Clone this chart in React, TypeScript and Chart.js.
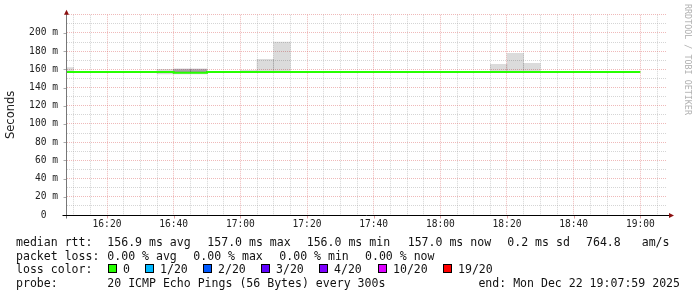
import React, { useEffect, useRef } from 'react';
import { Chart, registerables } from 'chart.js';

Chart.register(...registerables);

// ---------- data ----------
const bucketTimes = [
  '16:05', '16:10', '16:15', '16:20', '16:25', '16:30', '16:35', '16:40', '16:45', '16:50',
  '16:55', '17:00', '17:05', '17:10', '17:15', '17:20', '17:25', '17:30', '17:35', '17:40',
  '17:45', '17:50', '17:55', '18:00', '18:05', '18:10', '18:15', '18:20', '18:25', '18:30',
  '18:35', '18:40', '18:45', '18:50', '18:55', '19:00',
];
const medianRtt = [
  157, 157, 157, 157, 157, 157, 157, 156.3, 156.3, 157,
  157, 157, 157, 157, 157, 157, 157, 157, 157, 157,
  157, 157, 157, 157, 157, 157, 157, 157, 157, 157,
  157, 157, 157, 157, 157, 157,
];
const smokeLow = [
  157, null, null, null, null, null, 155, 155, 155, null,
  null, 157, 156.5, 156.5, null, null, null, null, null, null,
  null, null, null, null, null, null, 156.5, 156.5, 156.5, null,
  null, null, null, null, null, null,
];
const smokeHigh = [
  162, null, null, null, null, null, 160, 158.5, 158.5, null,
  null, 159, 171, 190, null, null, null, null, null, null,
  null, null, null, null, null, null, 165.5, 177.5, 166.5, null,
  null, null, null, null, null, null,
];
const denseLow = [
  null, null, null, null, null, null, null, 157.3, 157.3, null,
  null, null, null, null, null, null, null, null, null, null,
  null, null, null, null, null, null, null, null, null, null,
  null, null, null, null, null, null,
];
const denseHigh = [
  null, null, null, null, null, null, null, 160.3, 160.3, null,
  null, null, null, null, null, null, null, null, null, null,
  null, null, null, null, null, null, null, null, null, null,
  null, null, null, null, null, null,
];
const xStart = '16:08';
const xEnd = '19:08';
const xTickTimes = ['16:20', '16:40', '17:00', '17:20', '17:40', '18:00', '18:20', '18:40', '19:00'];
const yTickValues = [0, 20, 40, 60, 80, 100, 120, 140, 160, 180, 200];
const yTickLabels = ['0  ', '20 m', '40 m', '60 m', '80 m', '100 m', '120 m', '140 m', '160 m', '180 m', '200 m'];
const yMax = 220;

const rttLabel = 'median rtt:';
const rttStats = ['156.9 ms avg', '157.0 ms max', '156.0 ms min', '157.0 ms now', '0.2 ms sd', '764.8', 'am/s'];
const lossLabel = 'packet loss:';
const lossStats = ['0.00 % avg', '0.00 % max', '0.00 % min', '0.00 % now'];
const colorLabel = 'loss color:';
const lossLevels = ['0', '1/20', '2/20', '3/20', '4/20', '10/20', '19/20'];
const lossColors = ['#26ff00', '#00b8ff', '#0059ff', '#5e00ff', '#7e00ff', '#dd00ff', '#ff0000'];
const probeLabel = 'probe:';
const probeText = '20 ICMP Echo Pings (56 Bytes) every 300s';
const endText = 'end: Mon Dec 22 19:07:59 2025';
const watermark = 'RRDTOOL / TOBI OETIKER';

// ---------- layout ----------
const W = 697;
const H = 297;
const rttX = [107.3, 207.3, 306.7, 407.7, 507.3, 586, 641.7];
const lossX = [107.3, 193.3, 279.3, 365];
const boxX = [108, 145, 203, 261, 319, 378, 443];
const rowBase = [246, 259.5, 273, 286.5];
const mono = "'DejaVu Sans Mono', monospace";

const toMin = (t: string) => {
  const [h, m] = t.split(':').map(Number);
  return h * 60 + m;
};

const axesPlugin = {
  id: 'rrdAxes',
  afterDraw(chart: any) {
    const { ctx } = chart;
    const xs = chart.scales.x;
    const ys = chart.scales.y;
    const area = chart.chartArea;
    const ax = Math.round(area.left) - 0.5;
    const ay = Math.round(area.bottom) + 0.5;
    ctx.save();
    ctx.lineWidth = 1;
    ctx.strokeStyle = '#e0a0a0';
    xTickTimes.forEach((t) => {
      const px = Math.round(xs.getPixelForValue(toMin(t))) + 0.5;
      ctx.beginPath();
      ctx.moveTo(px, ay);
      ctx.lineTo(px, ay + 3);
      ctx.stroke();
    });
    ctx.strokeStyle = '#aaa';
    yTickValues.forEach((v) => {
      const py = Math.round(ys.getPixelForValue(v)) + 0.5;
      ctx.beginPath();
      ctx.moveTo(ax - 3, py);
      ctx.lineTo(ax, py);
      ctx.stroke();
    });
    ctx.strokeStyle = '#777';
    ctx.beginPath();
    ctx.moveTo(ax, ay + 3);
    ctx.lineTo(ax, area.top - 3);
    ctx.stroke();
    ctx.strokeStyle = '#000';
    ctx.beginPath();
    ctx.moveTo(ax - 4, ay);
    ctx.lineTo(area.right + 4, ay);
    ctx.stroke();
    ctx.fillStyle = '#8b1010';
    ctx.beginPath();
    ctx.moveTo(ax - 2.5, area.top);
    ctx.lineTo(ax + 2.5, area.top);
    ctx.lineTo(ax, area.top - 5);
    ctx.closePath();
    ctx.fill();
    ctx.beginPath();
    ctx.moveTo(area.right + 2, ay - 2.5);
    ctx.lineTo(area.right + 2, ay + 2.5);
    ctx.lineTo(area.right + 7, ay);
    ctx.closePath();
    ctx.fill();
    ctx.restore();
  },
};

export default function App() {
  const ref = useRef<HTMLCanvasElement>(null);

  useEffect(() => {
    const xs = bucketTimes.map(toMin);
    const majorX = xTickTimes.map(toMin);
    const minorGrid = 'rgba(150,150,150,0.4)';
    const majorGrid = 'rgba(220,100,100,0.45)';
    const chart = new Chart(ref.current as HTMLCanvasElement, {
      type: 'line',
      data: {
        datasets: [
          {
            type: 'line',
            label: 'median rtt',
            data: xs.map((x, i) => ({ x, y: medianRtt[i] })),
            stepped: true,
            borderColor: '#26ff00',
            borderWidth: 2,
            pointRadius: 0,
            fill: false,
            order: 0,
          } as any,
          {
            type: 'bar',
            label: 'dense smoke',
            data: xs.map((x, i) => ({ x: x + 2.5, y: denseLow[i] == null ? null : [denseLow[i], denseHigh[i]] })),
            backgroundColor: 'rgba(90,70,90,0.45)',
            borderWidth: 0,
            grouped: false,
            barPercentage: 1,
            categoryPercentage: 1,
            order: 1,
          } as any,
          {
            type: 'bar',
            label: 'smoke',
            data: xs.map((x, i) => ({ x: x + 2.5, y: smokeLow[i] == null ? null : [smokeLow[i], smokeHigh[i]] })),
            backgroundColor: 'rgba(0,0,0,0.14)',
            borderWidth: 0,
            grouped: false,
            barPercentage: 1,
            categoryPercentage: 1,
            order: 2,
          } as any,
        ],
      },
      options: {
        responsive: false,
        devicePixelRatio: 1,
        animation: false,
        events: [],
        layout: { padding: { left: 0, top: 13, right: 30, bottom: 0 } },
        plugins: { legend: { display: false }, tooltip: { enabled: false } },
        scales: {
          x: {
            type: 'linear',
            min: toMin(xStart),
            max: toMin(xEnd),
            offset: false,
            afterBuildTicks: (s: any) => {
              const t: any[] = [];
              for (let v = Math.ceil(s.min / 5) * 5; v <= s.max; v += 5) t.push({ value: v });
              s.ticks = t;
            },
            afterFit: (s: any) => {
              s.height = H - 215;
            },
            ticks: {
              autoSkip: false,
              maxRotation: 0,
              minRotation: 0,
              padding: 4,
              color: '#222',
              font: { family: mono, size: 9.6 },
              callback: (v: any) => {
                const i = majorX.indexOf(Number(v));
                return i >= 0 ? xTickTimes[i] : '';
              },
            },
            grid: {
              drawTicks: false,
              offset: false,
              lineWidth: 1,
              color: (c: any) => (c.tick && majorX.includes(c.tick.value) ? majorGrid : minorGrid),
            },
            border: { display: false, dash: [1, 1] },
          } as any,
          y: {
            type: 'linear',
            min: 0,
            max: yMax,
            afterBuildTicks: (s: any) => {
              const t: any[] = [];
              for (let v = 0; v <= s.max; v += 10) t.push({ value: v });
              s.ticks = t;
            },
            afterFit: (s: any) => {
              s.width = 67;
            },
            ticks: {
              autoSkip: false,
              padding: 9,
              color: '#222',
              font: { family: mono, size: 9.6 },
              callback: (v: any) => {
                const i = yTickValues.indexOf(Number(v));
                return i >= 0 ? yTickLabels[i] : '';
              },
            },
            grid: {
              drawTicks: false,
              lineWidth: 1,
              color: (c: any) => (c.tick && c.tick.value % 20 === 0 ? majorGrid : minorGrid),
            },
            border: { display: false, dash: [1, 1] },
            title: {
              display: true,
              text: 'Seconds',
              color: '#222',
              font: { family: "'DejaVu Sans', sans-serif", size: 11.5 },
              padding: { top: 4.6, bottom: 0 },
            },
          } as any,
        },
      },
      plugins: [axesPlugin],
    });
    return () => chart.destroy();
  }, []);

  const txt: React.CSSProperties = {
    position: 'absolute',
    whiteSpace: 'pre',
    fontFamily: mono,
    fontSize: 11.55,
    lineHeight: '14px',
    color: '#111',
  };
  const top = (r: number) => rowBase[r] - 11;

  return (
    <div style={{ position: 'absolute', left: 0, top: 0, width: W, height: H, background: '#fff', overflow: 'hidden' }}>
      <canvas ref={ref} width={W} height={H} style={{ position: 'absolute', left: 0, top: 0, width: W, height: H }} />
      <span style={{ ...txt, left: 16, top: top(0) }}>{rttLabel}</span>
      {rttStats.map((s, i) => (
        <span key={'r' + i} style={{ ...txt, left: rttX[i], top: top(0) }}>{s}</span>
      ))}
      <span style={{ ...txt, left: 16, top: top(1) }}>{lossLabel}</span>
      {lossStats.map((s, i) => (
        <span key={'l' + i} style={{ ...txt, left: lossX[i], top: top(1) }}>{s}</span>
      ))}
      <span style={{ ...txt, left: 16, top: top(2) }}>{colorLabel}</span>
      {lossLevels.map((s, i) => (
        <React.Fragment key={'c' + i}>
          <div
            style={{
              position: 'absolute',
              left: boxX[i],
              top: 264,
              width: 7,
              height: 7,
              border: '1px solid #000',
              background: lossColors[i],
            }}
          />
          <span style={{ ...txt, left: boxX[i] + 15, top: top(2) }}>{s}</span>
        </React.Fragment>
      ))}
      <span style={{ ...txt, left: 16, top: top(3) }}>{probeLabel}</span>
      <span style={{ ...txt, left: 107.3, top: top(3) }}>{probeText}</span>
      <span style={{ ...txt, right: W - 680, top: top(3) }}>{endText}</span>
      <span
        style={{
          position: 'absolute',
          left: 693.4,
          top: 4,
          whiteSpace: 'pre',
          fontFamily: mono,
          fontSize: 8.4,
          lineHeight: 'normal',
          color: '#b0b0b0',
          transform: 'rotate(90deg)',
          transformOrigin: '0 0',
        }}
      >
        {watermark}
      </span>
    </div>
  );
}
